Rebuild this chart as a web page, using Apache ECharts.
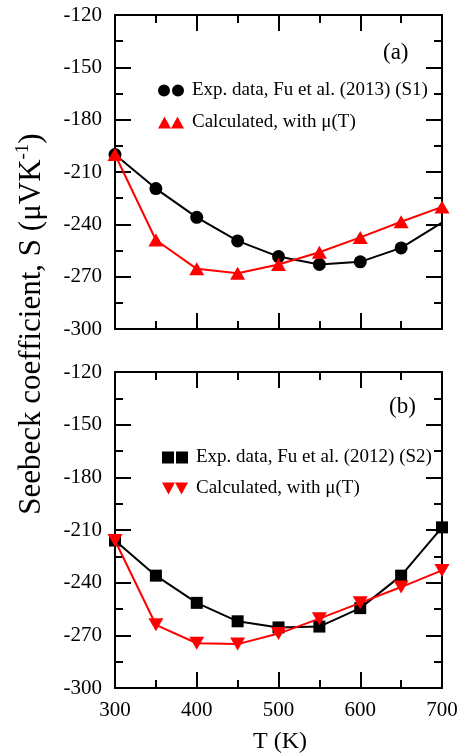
<!DOCTYPE html>
<html><head><meta charset="utf-8">
<script src="https://cdn.jsdelivr.net/npm/echarts@6/dist/echarts.min.js"></script>
<style>html,body{margin:0;padding:0;background:#fff}#c{width:467px;height:756px}</style>
</head><body><div id="c"></div>
<script>
const temps = [300, 350, 400, 450, 500, 550, 600, 650, 700];
const expS1 = [-200, -219.5, -236, -249.5, -258.5, -263, -261.5, -253.5, -239];
const calcA = [-200, -249, -265.5, -268, -263, -256, -247.5, -238.5, -230];
const expS2 = [-216, -236, -251.5, -262, -265.5, -265, -254.5, -236, -208.5];
const calcB = [-216, -264, -274.5, -275, -269, -260.5, -251.5, -242.5, -233];
const yTicks = [-120, -150, -180, -210, -240, -270, -300];
const xTicks = [300, 400, 500, 600, 700];
const legendA = ['Exp. data, Fu et al. (2013) (S1)', 'Calculated, with \u03bc(T)'];
const legendB = ['Exp. data, Fu et al. (2012) (S2)', 'Calculated, with \u03bc(T) '];

const FONT = 'Liberation Serif';
const chart = echarts.init(document.getElementById('c'));
const toPairs = arr => arr.map((v, i) => [temps[i], v]);

function xAx(gi, pos, labels) {
  return {
    type: 'value', gridIndex: gi, position: pos, min: xTicks[0], max: xTicks[xTicks.length - 1], interval: 100,
    axisLine: {show: true, lineStyle: {color: '#000', width: 2}},
    axisTick: {show: true, inside: true, length: 16, lineStyle: {color: '#000', width: 2}},
    minorTick: {show: true, splitNumber: 2, length: 8, lineStyle: {color: '#000', width: 2}},
    axisLabel: {show: labels, color: '#000', fontFamily: FONT, fontSize: 21, margin: 12},
    splitLine: {show: false}, minorSplitLine: {show: false}
  };
}
function yAx(gi, pos, labels) {
  return {
    type: 'value', gridIndex: gi, position: pos, min: yTicks[yTicks.length - 1], max: yTicks[0], interval: 30,
    axisLine: {show: true, lineStyle: {color: '#000', width: 2}},
    axisTick: {show: true, inside: true, length: 16, lineStyle: {color: '#000', width: 2}},
    minorTick: {show: true, splitNumber: 2, length: 8, lineStyle: {color: '#000', width: 2}},
    axisLabel: {show: labels, color: '#000', fontFamily: FONT, fontSize: 21, margin: 13},
    splitLine: {show: false}, minorSplitLine: {show: false}
  };
}

const dblCircle = 'path://M0,6a6,6 0 1,0 12,0a6,6 0 1,0 -12,0M14,6a6,6 0 1,0 12,0a6,6 0 1,0 -12,0';
const dblTri = 'path://M0,12L6.5,0L13,12ZM13,12L19.5,0L26,12Z';
const dblSq = 'path://M0,0H12V12H0ZM14,0H26V12H14Z';
const dblTriDown = 'path://M0,0L6.5,12L13,0ZM13,0L19.5,12L26,0Z';

const expA = toPairs(expS1);
expA[expA.length - 1] = {value: expA[expA.length - 1], symbol: 'none'};

chart.setOption({
  animation: false,
  backgroundColor: '#fff',
  grid: [
    {left: 115, right: 25, top: 15, height: 314},
    {left: 115, right: 25, top: 372, height: 316}
  ],
  xAxis: [xAx(0, 'bottom', false), xAx(0, 'top', false), xAx(1, 'bottom', true), xAx(1, 'top', false)],
  yAxis: [yAx(0, 'left', true), yAx(0, 'right', false), yAx(1, 'left', true), yAx(1, 'right', false)],
  legend: [
    {data: [{name: legendA[0], icon: dblCircle}, {name: legendA[1], icon: dblTri}],
     orient: 'vertical', left: 153, top: 76, itemWidth: 26, itemHeight: 12, itemGap: 13,
     textStyle: {fontFamily: FONT, fontSize: 19, color: '#000', padding: [0, 0, 0, 3]}},
    {data: [{name: legendB[0], icon: dblSq}, {name: legendB[1], icon: dblTriDown}],
     orient: 'vertical', left: 157, top: 443, itemWidth: 26, itemHeight: 12, itemGap: 12,
     textStyle: {fontFamily: FONT, fontSize: 19, color: '#000', padding: [0, 0, 0, 3]}}
  ],
  series: [
    {name: legendA[0], type: 'line', xAxisIndex: 0, yAxisIndex: 0, data: expA,
     symbol: 'circle', symbolSize: 13, lineStyle: {color: '#000', width: 2}, itemStyle: {color: '#000'}, z: 3},
    {name: legendA[1], type: 'line', xAxisIndex: 0, yAxisIndex: 0, data: toPairs(calcA),
     symbol: 'triangle', symbolSize: [15, 13], lineStyle: {color: '#ff0000', width: 2}, itemStyle: {color: '#ff0000'}, z: 4},
    {name: legendB[0], type: 'line', xAxisIndex: 2, yAxisIndex: 2, data: toPairs(expS2),
     symbol: 'rect', symbolSize: 12, lineStyle: {color: '#000', width: 2}, itemStyle: {color: '#000'}, z: 3},
    {name: legendB[1], type: 'line', xAxisIndex: 2, yAxisIndex: 2, data: toPairs(calcB),
     symbol: 'triangle', symbolRotate: 180, symbolSize: [15, 13], lineStyle: {color: '#ff0000', width: 2}, itemStyle: {color: '#ff0000'}, z: 4}
  ],
  graphic: [
    {type: 'text', left: 383, top: 41, style: {text: '(a)', font: '23px "Liberation Serif"', fill: '#000'}},
    {type: 'text', left: 389, top: 395, style: {text: '(b)', font: '23px "Liberation Serif"', fill: '#000'}},
    {type: 'text', x: 280, y: 742, style: {text: 'T (K)', font: '24px "Liberation Serif"', fill: '#000', align: 'center', verticalAlign: 'middle'}},
    {type: 'text', x: 32, y: 324, rotation: Math.PI / 2,
     style: {text: '{a|Seebeck coefficient, S (\u03bcVK}{s|-1}{a|)}', align: 'center', verticalAlign: 'middle', fill: '#000',
       rich: {a: {fontFamily: FONT, fontSize: 31, color: '#000', lineHeight: 36},
              s: {fontFamily: FONT, fontSize: 19, color: '#000', verticalAlign: 'top', lineHeight: 36, padding: [0, 0, 12, 0]}}}}
  ]
});
</script></body></html>
